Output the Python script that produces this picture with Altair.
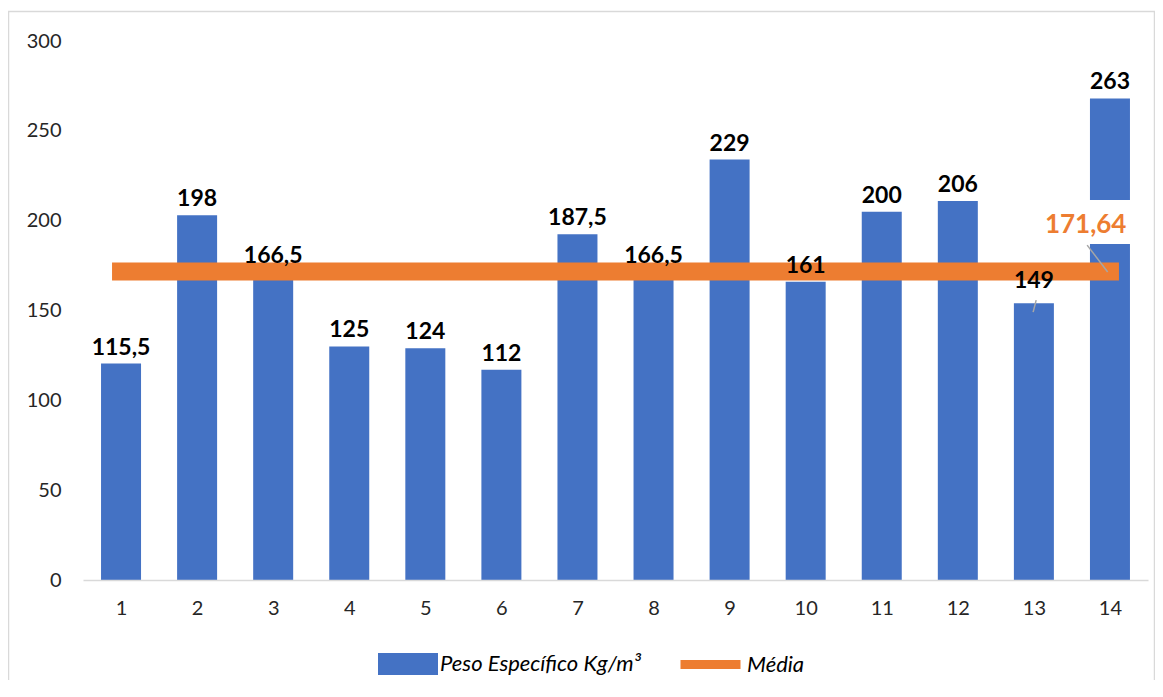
import altair as alt
import pandas as pd

# ---- data ----
categories = list(range(1, 15))
bar_heights = [120.5, 203, 171.5, 130, 129, 117, 192.5, 171.5, 234, 166, 205, 211, 154, 268]
value_labels = ["115,5", "198", "166,5", "125", "124", "112", "187,5", "166,5",
                "229", "161", "200", "206", "149", "263"]
label_y = [120.5, 203, 171.5, 130, 129, 117, 192.5, 171.5, 234, 166, 205, 211, 157.5, 268]
mean_value = 171.64
mean_label = "171,64"
mean_label_x = [13.68]
mean_label_y = [193.3]
box_x = [14]
box_y = [187]
box_y2 = [211.5]
leader_x = [13.03, 13.70]
leader_y = [155.8, 186.4]
leader_x2 = [12.99, 13.97]
leader_y2 = [149.1, 171.4]
series = ["Peso Específico Kg/m³", "Média"]
colors = ["#4472C4", "#ED7D31"]
y_ticks = [0, 50, 100, 150, 200, 250, 300]

FONT = "Lato"

bars_df = pd.DataFrame({"cat": categories, "val": bar_heights, "series": series[0],
                        "lab": value_labels, "ly": label_y})
line_df = pd.DataFrame({"cat": [categories[0], categories[-1]],
                        "val": [mean_value, mean_value], "series": series[1]})
mean_lab_df = pd.DataFrame({"cat": mean_label_x, "val": mean_label_y, "lab": [mean_label]})
box_df = pd.DataFrame({"cat": box_x, "y": box_y, "y2": box_y2})
leader_df = pd.DataFrame({"x": leader_x, "y": leader_y, "x2": leader_x2, "y2": leader_y2})

x_scale = alt.Scale(domain=[0.5, 14.5], nice=False, zero=False, padding=0)
y_scale = alt.Scale(domain=[0, 300], nice=False, padding=0)

x_axis = alt.Axis(values=categories, format="d", grid=False, ticks=False,
                  domainColor="#d9d9d9", domainWidth=1.5, labelFontSize=20,
                  labelColor="#262626", labelPadding=18, labelFont=FONT,
                  title=None, zindex=1, labelFlush=False)
y_axis = alt.Axis(values=y_ticks, grid=False, ticks=False, domain=False,
                  labelFontSize=20, labelColor="#262626", labelPadding=22,
                  labelFont=FONT, title=None)

common_legend = dict(title=None, orient="none", direction="horizontal",
                     symbolSize=3600, labelFontSize=22, labelFontStyle="italic",
                     labelFont=FONT, labelColor="#000000", labelOffset=2, padding=0,
                     labelLimit=400)

bar_legend = alt.Legend(legendX=295, legendY=593,
                        symbolType="M-1,-0.37L1,-0.37L1,0.37L-1,0.37Z",
                        symbolStrokeWidth=0, symbolOpacity=1, **common_legend)
line_legend = alt.Legend(legendX=593, legendY=589, symbolType="stroke",
                         symbolStrokeWidth=9, symbolOpacity=1, **common_legend)

bars = alt.Chart(bars_df).mark_bar(size=40).encode(
    x=alt.X("cat:Q", scale=x_scale, axis=x_axis),
    y=alt.Y("val:Q", scale=y_scale, axis=y_axis),
    fill=alt.Fill("series:N", scale=alt.Scale(domain=[series[0]], range=[colors[0]]),
                  legend=bar_legend),
)

box = alt.Chart(box_df).mark_bar(size=44, color="white").encode(
    x=alt.X("cat:Q", scale=x_scale),
    y=alt.Y("y:Q", scale=y_scale),
    y2="y2:Q",
)

mean_line = alt.Chart(line_df).mark_line(strokeWidth=18, strokeCap="square").encode(
    x=alt.X("cat:Q", scale=x_scale),
    y=alt.Y("val:Q", scale=y_scale),
    stroke=alt.Stroke("series:N", scale=alt.Scale(domain=[series[1]], range=[colors[1]]),
                      legend=line_legend),
)

leaders = alt.Chart(leader_df).mark_rule(color="#a6a6a6", strokeWidth=1.5).encode(
    x=alt.X("x:Q", scale=x_scale),
    y=alt.Y("y:Q", scale=y_scale),
    x2="x2:Q",
    y2="y2:Q",
)

labels = alt.Chart(bars_df).mark_text(fontSize=23, fontWeight="bold", font=FONT,
                                      dy=-9, baseline="alphabetic", color="#000000").encode(
    x=alt.X("cat:Q", scale=x_scale),
    y=alt.Y("ly:Q", scale=y_scale),
    text="lab:N",
)

mean_text = alt.Chart(mean_lab_df).mark_text(fontSize=26, fontWeight="bold", font=FONT,
                                             baseline="alphabetic", color="#ED7D31").encode(
    x=alt.X("cat:Q", scale=x_scale),
    y=alt.Y("val:Q", scale=y_scale),
    text="lab:N",
)

border = alt.Chart(pd.DataFrame({"a": [0]})).mark_rect(
    filled=False, stroke="#d9d9d9", strokeWidth=1.5).encode(
    x=alt.value(-74.5), x2=alt.value(1071.5), y=alt.value(-29.5), y2=alt.value(720))

chart = alt.layer(border, bars, box, mean_line, leaders, labels, mean_text).properties(
    width=1065, height=539,
    autosize=alt.AutoSizeParams(type="none"),
    padding={"left": 75, "top": 33, "right": 7, "bottom": 100},
).configure(font=FONT).configure_view(strokeWidth=0)

chart.save("out.html", embed_options={"renderer": "svg", "actions": False})
